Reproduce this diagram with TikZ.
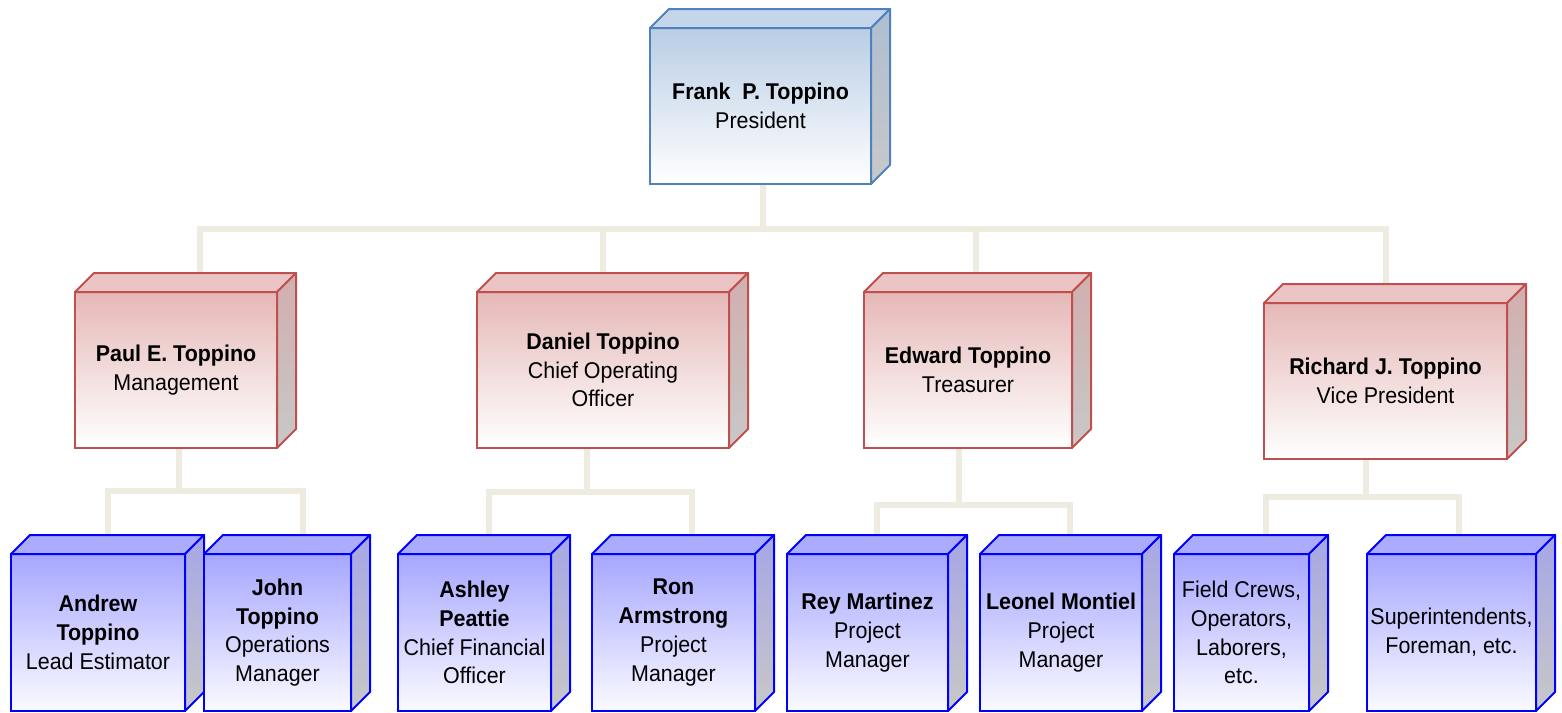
\documentclass[tikz,border=0pt]{standalone}
\usepackage{fontspec}
\setmainfont{Liberation Sans}[FakeStretch=0.94]
\usetikzlibrary{backgrounds}

\definecolor{chiefline}{HTML}{4F81BD}
\definecolor{chieftop}{HTML}{B9CDE5}
\definecolor{chiefroof}{HTML}{C6D6EA}
\definecolor{chiefside}{HTML}{AEBED2}
\definecolor{headline}{HTML}{C0504D}
\definecolor{headtop}{HTML}{E5B8B7}
\definecolor{headroof}{HTML}{EBC5C5}
\definecolor{headside}{HTML}{D2AEAE}
\definecolor{crewline}{HTML}{0000FF}
\definecolor{crewtop}{HTML}{A6A6FF}
\definecolor{crewroof}{HTML}{ACACFF}
\definecolor{crewside}{HTML}{A6A6E6}
\definecolor{sidegrey}{HTML}{C8C8C8}
\definecolor{linkcol}{HTML}{EEEBE0}

\tikzset{
  card/.style={inner sep=0pt, outer sep=0pt, align=center, line width=1pt,
    font=\fontsize{11.4}{14.4}\selectfont},
  chief/.style={card, draw=chiefline, top color=chieftop, bottom color=white,
    minimum width=110.5pt, minimum height=78pt},
  head/.style={card, draw=headline, top color=headtop, bottom color=white,
    minimum height=78pt},
  crew/.style={card, draw=crewline, top color=crewtop, bottom color=crewtop!5,
    minimum height=78.5pt},
  chief roof/.style={fill=chiefroof, draw=chiefline, line width=1pt, line join=round},
  chief wall/.style={top color=chiefside, bottom color=sidegrey, draw=chiefline, line width=1pt, line join=round},
  head roof/.style={fill=headroof, draw=headline, line width=1pt, line join=round},
  head wall/.style={top color=headside, bottom color=sidegrey, draw=headline, line width=1pt, line join=round},
  crew roof/.style={fill=crewroof, draw=crewline, line width=1pt, line join=round},
  crew wall/.style={top color=crewside, bottom color=sidegrey, draw=crewline, line width=1pt, line join=round},
  link/.style={draw=linkcol, line width=3pt, line join=miter}
}

% top and right faces of a box node
\newcommand{\cubefaces}[2]{%
  \path[#2 roof] (#1.north west) -- ++(19,19) -- ([shift={(19,19)}]#1.north east) -- (#1.north east) -- cycle;
  \path[#2 wall] (#1.north east) -- ++(19,19) -- ([shift={(19,19)}]#1.south east) -- (#1.south east) -- cycle;
}

\begin{document}
\begin{tikzpicture}[x=0.5pt, y=0.5pt]
\useasboundingbox (0,0) rectangle (1562,-712);

% president
\node[chief] (Frank) at (760.5,-106) {\textbf{Frank~~P. Toppino}\\President};
\cubefaces{Frank}{chief}

% heads
\node[head, minimum width=101pt] (Paul) at (176,-370) {\textbf{Paul E. Toppino}\\Management};
\cubefaces{Paul}{head}
\node[head, minimum width=126pt] (Daniel) at (603,-370) {\textbf{Daniel Toppino}\\Chief Operating\\Officer};
\cubefaces{Daniel}{head}
\node[head, minimum width=104pt] (Edward) at (968,-370) {\textbf{Edward Toppino}\\Treasurer};
\cubefaces{Edward}{head}
\node[head, minimum width=121.5pt] (Richard) at (1385.5,-381) {\textbf{Richard J. Toppino}\\Vice President};
\cubefaces{Richard}{head}

% staff
\node[crew, minimum width=87pt] (Andrew) at (98,-632.5) {\textbf{Andrew}\\\textbf{Toppino}\\Lead Estimator};
\cubefaces{Andrew}{crew}
\node[crew, minimum width=73.5pt] (John) at (277.5,-632.5) {\textbf{John}\\\textbf{Toppino}\\Operations\\Manager};
\cubefaces{John}{crew}
\node[crew, minimum width=76.5pt] (Ashley) at (474.5,-632.5) {\textbf{Ashley}\\\textbf{Peattie}\\Chief Financial\\Officer};
\cubefaces{Ashley}{crew}
\node[crew, minimum width=81.5pt] (Ron) at (673.5,-632.5) {\textbf{Ron}\\\textbf{Armstrong}\\Project\\Manager};
\cubefaces{Ron}{crew}
\node[crew, minimum width=80.5pt] (Rey) at (867.5,-632.5) {\textbf{Rey Martinez}\\Project\\Manager};
\cubefaces{Rey}{crew}
\node[crew, minimum width=81pt] (Leonel) at (1061,-632.5) {\textbf{Leonel Montiel}\\Project\\Manager};
\cubefaces{Leonel}{crew}
\node[crew, minimum width=67.5pt] (Field) at (1241.5,-632.5) {Field Crews,\\Operators,\\Laborers,\\etc.};
\cubefaces{Field}{crew}
\node[crew, minimum width=84.5pt] (Super) at (1451.5,-632.5) {Superintendents,\\Foreman, etc.};
\cubefaces{Super}{crew}

\begin{pgfonlayer}{background}
% president to heads
\draw[link] ([shift={(2.5,0)}]Frank.south) -- ([shift={(2.5,0)}]Frank.south |- 0,-229);
\draw[link] ([shift={(24,0)}]Paul.north) |- (Richard.north |- 0,-229) -- (Richard.north);
\draw[link] (Daniel.north) -- (Daniel.north |- 0,-229);
\draw[link] ([shift={(8,0)}]Edward.north) -- ([shift={(8,0)}]Edward.north |- 0,-229);

% heads to staff
\draw[link] ([shift={(3,0)}]Paul.south) -- ([shift={(3,0)}]Paul.south |- 0,-491);
\draw[link] ([shift={(10,0)}]Andrew.north) |- ([shift={(25,0)}]John.north |- 0,-491) -- ([shift={(25,0)}]John.north);
\draw[link] ([shift={(-16,0)}]Daniel.south) -- ([shift={(-16,0)}]Daniel.south |- 0,-492);
\draw[link] ([shift={(14.5,0)}]Ashley.north) |- ([shift={(18.5,0)}]Ron.north |- 0,-492) -- ([shift={(18.5,0)}]Ron.north);
\draw[link] ([shift={(-9,0)}]Edward.south) -- ([shift={(-9,0)}]Edward.south |- 0,-505);
\draw[link] ([shift={(9.5,0)}]Rey.north) |- ([shift={(9,0)}]Leonel.north |- 0,-505) -- ([shift={(9,0)}]Leonel.north);
\draw[link] ([shift={(-19.5,0)}]Richard.south) -- ([shift={(-19.5,0)}]Richard.south |- 0,-497);
\draw[link] ([shift={(24.5,0)}]Field.north) |- ([shift={(7.5,0)}]Super.north |- 0,-497) -- ([shift={(7.5,0)}]Super.north);
\end{pgfonlayer}

\end{tikzpicture}
\end{document}
